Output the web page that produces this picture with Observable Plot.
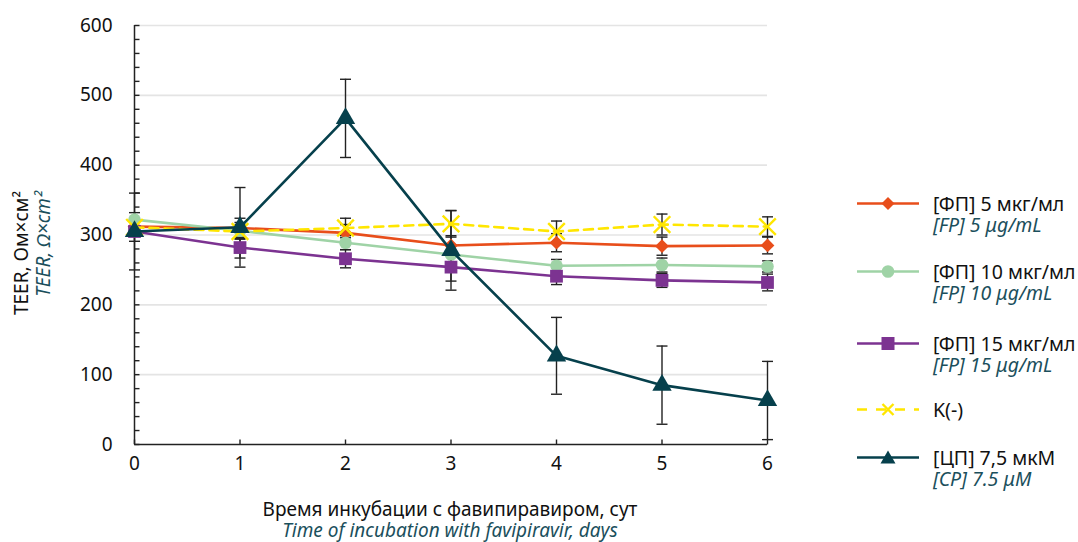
<!DOCTYPE html>
<html>
<head>
<meta charset="utf-8">
<script src="https://cdn.jsdelivr.net/npm/d3@7"></script>
<script src="https://cdn.jsdelivr.net/npm/@observablehq/plot@0.6"></script>
<style>
  html, body { margin: 0; padding: 0; background: #fff; }
  #wrap { position: relative; width: 1078px; height: 542px; font-family: "Noto Sans", sans-serif; }
  .leg { position: absolute; left: 857px; display: flex; align-items: flex-start; }
  .leg svg { flex: none; }
  .leg .t { margin-left: 14px; font-size: 19.5px; line-height: 21px; color: #111; white-space: nowrap; }
  .leg .t i { color: #1b4f5c; display: block; }
</style>
</head>
<body>
<div id="wrap"></div>
<script>
// ---- data ----
const days = [0, 1, 2, 3, 4, 5, 6];
const seriesNames = ["fp5", "fp10", "fp15", "kneg", "cp"];
const fp5 = [312, 310, 303, 285, 289, 284, 285];
const fp5Err = [12, 14, 12, 14, 13, 13, 12];
const fp10 = [322, 306, 289, 272, 256, 257, 255];
const fp10Err = [10, 12, 10, 14, 9, 10, 8];
const fp15 = [305, 282, 266, 254, 241, 235, 232];
const fp15Err = [14, 15, 13, 20, 12, 10, 12];
const kneg = [311, 305, 310, 316, 305, 315, 312];
const knegErr = [12, 10, 14, 19, 15, 15, 14];
const cp = [305, 311, 467, 278, 127, 85, 63];
const cpErr = [55, 57, 56, 57, 55, 56, 56];
const labelsRu = ["[ФП] 5 мкг/мл", "[ФП] 10 мкг/мл", "[ФП] 15 мкг/мл", "K(-)", "[ЦП] 7,5 мкМ"];
const labelsEn = ["[FP] 5 μg/mL", "[FP] 10 μg/mL", "[FP] 15 μg/mL", "", "[CP] 7.5 μM"];
const yTicks = [0, 100, 200, 300, 400, 500, 600];
const yMinor = d3.range(0, 601, 20);
const xTitleRu = "Время инкубации с фавипиравиром, сут";
const xTitleEn = "Time of incubation with favipiravir, days";
const yTitleRu = "TEER, Ом×см²";
const yTitleEn = "TEER, Ω×cm²";

// ---- styles ----
const values = {fp5, fp10, fp15, kneg, cp};
const errs = {fp5: fp5Err, fp10: fp10Err, fp15: fp15Err, kneg: knegErr, cp: cpErr};
const colors = {fp5: "#e84e1b", fp10: "#9fd3a6", fp15: "#7c3391", kneg: "#ffe600", cp: "#06404c"};
const symbols = {fp5: d3.symbolDiamond2, fp10: d3.symbolCircle, fp15: d3.symbolSquare, kneg: d3.symbolTimes, cp: d3.symbolTriangle};
const radii = {fp5: 6.2, fp10: 6.3, fp15: 7.2, kneg: 7.6, cp: 7.2};

const data = [];
for (const s of seriesNames) days.forEach((d, i) => data.push({series: s, day: d, value: values[s][i], err: errs[s][i]}));

const capSym = {draw(ctx) { ctx.moveTo(-5.5, 0); ctx.lineTo(5.5, 0); }};
const yTickSym = {draw(ctx) { ctx.moveTo(0, 0); ctx.lineTo(5, 0); }};
const xTickSym = {draw(ctx) { ctx.moveTo(0, 0); ctx.lineTo(0, -5); }};

const marks = [
  Plot.gridY(yTicks.filter(d => d > 0), {stroke: "#e4e4e4", strokeOpacity: 1, strokeWidth: 1.6}),
  Plot.ruleX(data, {x: "day", y1: d => d.value - d.err, y2: d => d.value + d.err, stroke: "#222", strokeWidth: 1.4}),
  Plot.dot(data, {x: "day", y: d => d.value - d.err, symbol: capSym, fill: "none", stroke: "#222", strokeWidth: 1.4}),
  Plot.dot(data, {x: "day", y: d => d.value + d.err, symbol: capSym, fill: "none", stroke: "#222", strokeWidth: 1.4}),
  Plot.ruleY([0], {stroke: "#222", strokeWidth: 1.5}),
  Plot.ruleX([0], {stroke: "#222", strokeWidth: 1.5}),
  Plot.dot(yMinor, {x: () => 0, y: d => d, symbol: yTickSym, fill: "none", stroke: "#222", strokeWidth: 1.4}),
  Plot.dot(days, {x: d => d, y: () => 0, symbol: xTickSym, fill: "none", stroke: "#222", strokeWidth: 1.4}),
  Plot.axisY(yTicks, {tickSize: 0, tickPadding: 22, fontSize: 19, label: null, fill: "#111"}),
  Plot.axisX(days, {tickSize: 0, tickPadding: 12, fontSize: 19, label: null, fill: "#111"})
];
for (const s of seriesNames) {
  const sub = data.filter(d => d.series === s);
  marks.push(Plot.line(sub, {x: "day", y: "value", stroke: colors[s], strokeWidth: 2.6,
    strokeDasharray: s === "kneg" ? "9,6" : null}));
  const stroked = s === "kneg";
  marks.push(Plot.dot(sub, {x: "day", y: "value", symbol: symbols[s], r: radii[s],
    fill: stroked ? "none" : colors[s], stroke: stroked ? colors[s] : "none", strokeWidth: stroked ? 2.4 : 0}));
}

const chart = Plot.plot({
  width: 1078, height: 542,
  marginLeft: 134, marginRight: 311, marginTop: 25, marginBottom: 98,
  style: {fontFamily: "Noto Sans, sans-serif", fontSize: "19px", background: "#fff"},
  x: {domain: [0, 6]},
  y: {domain: [0, 600]},
  marks
});
document.getElementById("wrap").appendChild(chart);

// axis titles
const svg = d3.select(chart);
svg.append("text").attr("x", 450).attr("y", 516).attr("text-anchor", "middle")
  .attr("font-size", 19).attr("fill", "#111").text(xTitleRu);
svg.append("text").attr("x", 450).attr("y", 537).attr("text-anchor", "middle")
  .attr("font-size", 19).attr("font-style", "italic").attr("fill", "#1b4f5c").text(xTitleEn);
svg.append("text").attr("transform", "translate(28,253) rotate(-90)").attr("text-anchor", "middle")
  .attr("font-size", 19).attr("fill", "#111").text(yTitleRu);
svg.append("text").attr("transform", "translate(50,244) rotate(-90)").attr("text-anchor", "middle")
  .attr("font-size", 19).attr("font-style", "italic").attr("fill", "#1b4f5c").text(yTitleEn);

// legend
const legTops = [193, 261, 333, 399, 447];
const iconPaths = {
  fp5: '<path d="M31,4 L37.5,10.5 L31,17 L24.5,10.5Z" fill="#e84e1b"/>',
  fp10: '<circle cx="31" cy="10.5" r="6.3" fill="#9fd3a6"/>',
  fp15: '<rect x="24.5" y="4" width="13" height="13" fill="#7c3391"/>',
  kneg: '<path d="M25.5,5 L36.5,16 M36.5,5 L25.5,16" stroke="#ffe600" stroke-width="2.4"/>',
  cp: '<path d="M31,3.5 L38.5,16.5 L23.5,16.5Z" fill="#06404c"/>'
};
seriesNames.forEach((s, i) => {
  const div = document.createElement("div");
  div.className = "leg";
  div.style.top = legTops[i] + "px";
  const dash = s === "kneg" ? ' stroke-dasharray="10,9"' : "";
  div.innerHTML = `<svg width="62" height="21"><line x1="0" x2="62" y1="10.5" y2="10.5" stroke="${colors[s]}" stroke-width="2.6"${dash}/>${iconPaths[s]}</svg>` +
    `<div class="t">${labelsRu[i]}${labelsEn[i] ? `<i>${labelsEn[i]}</i>` : ""}</div>`;
  document.getElementById("wrap").appendChild(div);
});
</script>
</body>
</html>
